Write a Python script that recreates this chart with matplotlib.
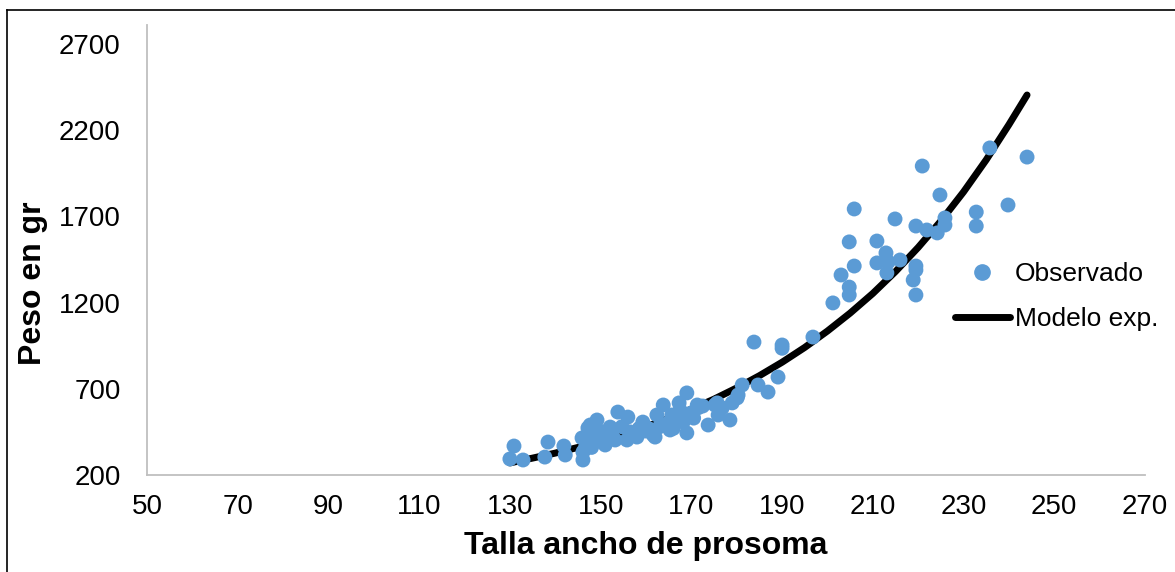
import matplotlib.pyplot as plt
from matplotlib.lines import Line2D

plt.rcParams['font.family'] = ['Liberation Sans', 'DejaVu Sans']

# observed points (ancho de prosoma, peso)
obs_x = [130.0, 130.9, 132.9, 137.7, 138.4, 141.9, 142.2, 146.1, 146.1, 145.9,
         147.7, 149.2, 147.9, 149.9, 151.0, 152.1, 153.8, 156.0, 153.2, 155.8,
         158.0, 159.3, 161.6, 162.4, 163.8, 165.7, 165.3, 167.5, 169.0, 169.0,
         168.2, 171.3, 173.7, 175.7, 178.5, 179.0, 180.1, 181.2, 184.7, 186.9,
         189.1, 147.2, 148.5, 150.5, 152.5, 157.6, 160.5, 163.0, 164.9, 166.5,
         167.3, 170.0, 171.5, 172.5, 175.2, 176.8, 175.9, 180.3, 162.0, 158.5,
         156.5, 150.0, 148.0, 146.5, 154.7, 160.0, 166.0, 170.5,
         183.8, 190.0, 190.0, 196.8, 201.2, 203.0, 204.8, 204.8, 204.8, 205.9,
         205.9, 210.9, 212.9, 210.9, 213.4, 216.0, 213.1, 214.9, 219.5, 219.5,
         218.9, 219.5, 219.5, 221.9, 224.2, 225.9, 225.9, 220.9, 224.8, 232.8,
         232.8, 239.8, 235.8, 244.0]
obs_y = [293, 368, 287, 304, 391, 368, 316, 287, 333, 415,
         490, 519, 386, 420, 374, 478, 565, 536, 403, 403,
         420, 507, 432, 548, 606, 548, 461, 577, 676, 444,
         507, 606, 490, 618, 519, 618, 647, 722, 722, 681,
         768, 473, 440, 450, 430, 444, 470, 480, 502, 520,
         618, 560, 590, 600, 606, 589, 548, 664, 420, 470,
         450, 400, 360, 350, 480, 455, 470, 530,
         971, 954, 935, 1000, 1198, 1360, 1290, 1244, 1552, 1412,
         1743, 1557, 1488, 1430, 1436, 1447, 1372, 1685, 1412, 1389,
         1331, 1244, 1644, 1621, 1604, 1691, 1650, 1992, 1824, 1725,
         1644, 1766, 2097, 2044]

# exponential model curve
mod_x = [130, 135, 140, 145, 150, 155, 160, 165, 170, 175, 180, 185, 190, 195,
         200, 205, 210, 215, 220, 225, 230, 235, 240, 244]
mod_y = [270, 298, 327, 360, 396, 436, 480, 528, 582, 640, 705, 776, 854, 940,
         1035, 1139, 1253, 1380, 1520, 1673, 1842, 2028, 2232, 2404]

xticks = [50, 70, 90, 110, 130, 150, 170, 190, 210, 230, 250, 270]
yticks = [200, 700, 1200, 1700, 2200, 2700]

fig = plt.figure(figsize=(11.75, 5.72), dpi=100)
ax = fig.add_axes([147 / 1175, 1 - 475 / 572, 998 / 1175, 450 / 572])

ax.plot(mod_x, mod_y, color='black', lw=5, solid_capstyle='round', zorder=2,
        label='Modelo exp.')
ax.scatter(obs_x, obs_y, s=115, color='#5B9BD5', edgecolors='none', zorder=3,
           label='Observado')

ax.set_xlim(50, 270)
ax.set_ylim(200, 2810)
ax.set_xticks(xticks)
ax.set_yticks(yticks)
ax.tick_params(length=0, labelsize=20)
ax.tick_params(axis='y', pad=19)
ax.tick_params(axis='x', pad=14)
for s in ['top', 'right']:
    ax.spines[s].set_visible(False)
for s in ['left', 'bottom']:
    ax.spines[s].set_color('#BFBFBF')
    ax.spines[s].set_linewidth(1.3)

ax.set_xlabel('Talla ancho de prosoma', fontsize=23, fontweight='bold', va='center')
ax.set_ylabel('Peso en gr', fontsize=23, fontweight='bold', va='center')
ax.xaxis.set_label_coords(0.5, -0.158)
ax.yaxis.set_label_coords(-0.114, 0.427)

handles = [Line2D([], [], marker='o', ls='none', color='#5B9BD5', markersize=11),
           Line2D([], [], color='black', lw=5, solid_capstyle='round')]
fig.legend(handles, ['Observado', 'Modelo exp.'], loc='upper left',
           bbox_to_anchor=(931 / 1175, 1 - 238 / 572), frameon=False,
           fontsize=19, handlelength=2.08, handletextpad=0.2, labelspacing=0.8)

# outer border of the original figure
fig.add_artist(Line2D([7 / 1175, 7 / 1175], [0, 1 - 10 / 572], color='black', lw=1.2))
fig.add_artist(Line2D([7 / 1175, 1], [1 - 10 / 572, 1 - 10 / 572], color='black', lw=1.2))

fig.savefig('out.png', dpi=100)
